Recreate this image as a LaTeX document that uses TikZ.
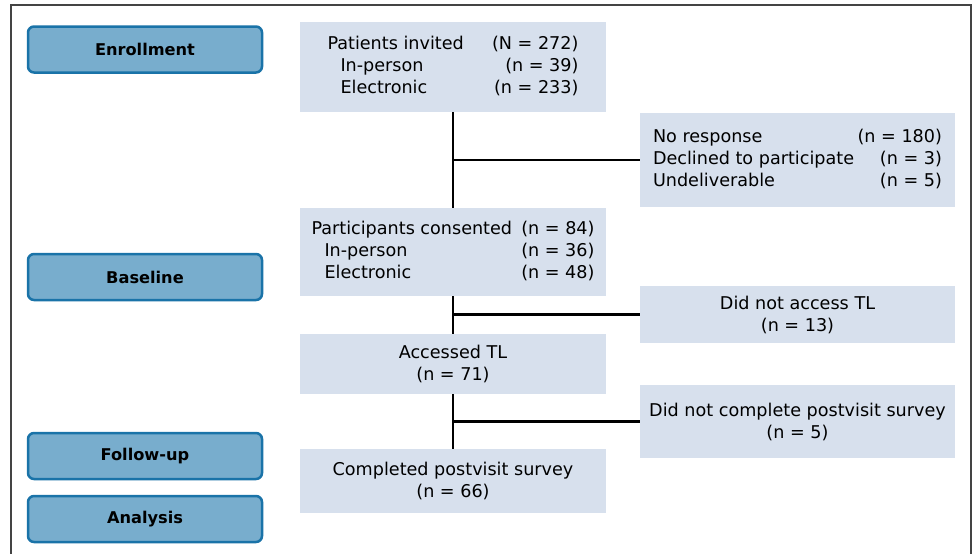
\documentclass[tikz,border=0pt]{standalone}
\usepackage{fontspec}
\setmainfont{DejaVu Sans}
\definecolor{phasefill}{HTML}{78ADCD}
\definecolor{phaseborder}{HTML}{1A73A8}
\definecolor{boxfill}{HTML}{D7E0ED}
\definecolor{framecol}{HTML}{444444}
\begin{document}
\begin{tikzpicture}[x=1pt,y=-1pt,
  phase/.style={draw=phaseborder, fill=phasefill, line width=2.5pt, rounded corners=6pt,
    minimum width=234pt, minimum height=46pt, inner sep=0pt,
    font=\fontsize{16.2}{20}\selectfont\bfseries},
  infobox/.style={fill=boxfill, inner sep=0pt, font=\fontsize{17.6}{22}\selectfont},
  cbox/.style={infobox, align=center},
  link/.style={line width=2.4pt, black}]
\useasboundingbox (0,0) rectangle (975,554);
\fill[white] (0,0) rectangle (975,554);
\draw[framecol, line width=1.8pt] (11,560) -- (11,5) -- (971,5) -- (971,560);

% phase labels
\node[phase] (enr) at (145,49.5) {Enrollment};
\node[phase] (base) at (145,277) {Baseline};
\node[phase] (fol) at (145,456) {Follow-up};
\node[phase] (ana) at (145,519) {Analysis};

% main column
\node[infobox, minimum width=306pt, minimum height=90pt] (pi) at (453,67)
  {\begin{tabular*}{251pt}{@{}l@{\extracolsep{\fill}}r@{}}
   Patients invited & (N = 272)\\
   \hspace{13pt}In-person & (n = 39)\\
   \hspace{13pt}Electronic & (n = 233)
   \end{tabular*}};
\node[infobox, minimum width=306pt, minimum height=88pt] (pc) at (453,252)
  {\begin{tabular*}{283pt}{@{}l@{\extracolsep{\fill}}r@{}}
   Participants consented & (n = 84)\\
   \hspace{13pt}In-person & (n = 36)\\
   \hspace{13pt}Electronic & (n = 48)
   \end{tabular*}};
\node[cbox, minimum width=306pt, minimum height=60pt] (acc) at (453,364)
  {Accessed TL\\(n = 71)};
\node[cbox, minimum width=306pt, minimum height=64pt] (comp) at (453,481)
  {Completed postvisit survey\\(n = 66)};

% exclusion column
\node[infobox, minimum width=315pt, minimum height=94pt] (nr) at (797.5,160)
  {\begin{tabular*}{289pt}{@{}l@{\extracolsep{\fill}}r@{}}
   No response & (n = 180)\\
   Declined to participate & (n = 3)\\
   Undeliverable & (n = 5)
   \end{tabular*}};
\node[cbox, minimum width=315pt, minimum height=57pt] (dna) at (797.5,314.5)
  {Did not access TL\\(n = 13)};
\node[cbox, minimum width=315pt, minimum height=73pt] (dnc) at (797.5,421.5)
  {Did not complete postvisit survey\\(n = 5)};

% connectors
\draw[link] (pi.south) -- (pc.north);
\draw[link] (pi.south |- nr.west) -- (nr.west);
\draw[link] (pc.south) -- (acc.north);
\draw[link] (pc.south |- dna.west) -- (dna.west);
\draw[link] (acc.south) -- (comp.north);
\draw[link] (acc.south |- dnc.west) -- (dnc.west);
\end{tikzpicture}
\end{document}
